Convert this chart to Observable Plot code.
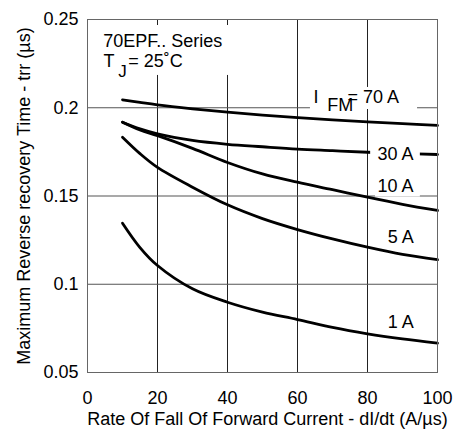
<!DOCTYPE html>
<html><head><meta charset="utf-8">
<script src="https://cdn.jsdelivr.net/npm/d3@7"></script>
<script src="https://cdn.jsdelivr.net/npm/@observablehq/plot@0.6"></script>
<style>
body{margin:0;background:#fff}
svg{font-family:"Liberation Sans",Arial,sans-serif}
</style>
</head><body><div id="chart"></div>
<script>
// di/dt values (A/µs)
const rate = [10, 15, 20, 30, 40, 50, 60, 70, 80, 90, 100];
// trr (µs) per forward current
const trr70A = [0.2045, 0.2030, 0.2016, 0.1994, 0.1975, 0.1958, 0.1944, 0.1931, 0.1920, 0.1910, 0.1900];
const trr30A = [0.1918, 0.1880, 0.1852, 0.1815, 0.1793, 0.1779, 0.1766, 0.1757, 0.1748, 0.1741, 0.1735];
const trr10A = [0.1918, 0.1874, 0.1842, 0.1770, 0.1690, 0.1625, 0.1578, 0.1536, 0.1493, 0.1453, 0.1418];
const trr5A  = [0.1833, 0.1740, 0.1662, 0.1550, 0.1450, 0.1372, 0.1310, 0.1257, 0.1210, 0.1169, 0.1139];
const trr1A  = [0.1346, 0.1208, 0.1106, 0.0974, 0.0898, 0.0842, 0.0800, 0.0755, 0.0719, 0.0690, 0.0666];
const seriesNames = ["70 A", "30 A", "10 A", "5 A", "1 A"];
const seriesValues = [trr70A, trr30A, trr10A, trr5A, trr1A];
const xTicks = [0, 20, 40, 60, 80, 100];
const yTicks = [0.05, 0.1, 0.15, 0.2, 0.25];
const xLabel = "Rate Of Fall Of Forward Current - dI/dt (A/µs)";
const yLabel = "Maximum Reverse recovery Time - trr (µs)";

const rows = seriesNames.flatMap((s, i) => rate.map((r, j) => ({rate: r, trr: seriesValues[i][j], s})));

// annotation texts (data coordinates)
const notesStart = [
  {text: "70EPF.. Series", x: 4.49, y: 0.2347, size: 18},
  {text: "T", x: 4.57, y: 0.2230, size: 18},
  {text: "J", x: 8.77, y: 0.2175, size: 17},
  {text: "= 25˚C", x: 11.63, y: 0.2230, size: 18},
  {text: "I", x: 64.57, y: 0.2026, size: 18},
  {text: "FM", x: 68.49, y: 0.1984, size: 18},
  {text: "= 70 A", x: 74.29, y: 0.2026, size: 18}
];
const notesEnd = [
  {text: "30 A", x: 93.14, y: 0.1705},
  {text: "10 A", x: 93.14, y: 0.1522},
  {text: "5 A", x: 93.2, y: 0.1233},
  {text: "1 A", x: 93.2, y: 0.0753}
];
// white label backgrounds
const masksBelow = [
  {x1: 2.5, x2: 41.2, y1: 0.2183, y2: 0.2466},
  {x1: 63.7, x2: 94.3, y1: 0.1990, y2: 0.2115},
  {x1: 82.3, x2: 95.1, y1: 0.1494, y2: 0.1616}
];
const masksAbove = [
  {x1: 80.9, x2: 95.1, y1: 0.1684, y2: 0.1797}
];

const chart = Plot.plot({
  width: 456,
  height: 436,
  marginLeft: 87,
  marginRight: 19,
  marginTop: 19,
  marginBottom: 64,
  style: {fontFamily: '"Liberation Sans", Arial, sans-serif', fontSize: "18px", color: "#000", background: "#fff"},
  x: {domain: [0, 100], ticks: xTicks, label: null, tickSize: 0, tickPadding: 19},
  y: {domain: [0.05, 0.25], ticks: yTicks, label: null, tickSize: 0, tickPadding: 9, tickFormat: d => String(d)},
  marks: [
    Plot.ruleX(xTicks.slice(1, -1), {stroke: "#222", strokeWidth: 1}),
    Plot.ruleY(yTicks.slice(1, -1), {stroke: "#555", strokeWidth: 1.2}),
    Plot.rect(masksBelow, {x1: "x1", x2: "x2", y1: "y1", y2: "y2", fill: "#fff"}),
    Plot.line(rows, {x: "rate", y: "trr", z: "s", stroke: "#000", strokeWidth: 2.8, curve: "catmull-rom"}),
    Plot.rect(masksAbove, {x1: "x1", x2: "x2", y1: "y1", y2: "y2", fill: "#fff"}),
    Plot.frame({stroke: "#666", strokeWidth: 1}),
    Plot.text(notesStart, {x: "x", y: "y", text: "text", fontSize: "size", textAnchor: "start", lineAnchor: "bottom", fill: "#000"}),
    Plot.text(notesEnd, {x: "x", y: "y", text: "text", fontSize: 18, textAnchor: "end", lineAnchor: "bottom", fill: "#000"}),
    Plot.text([xLabel], {frameAnchor: "bottom", dy: 52, dx: 5, fontSize: 18, textAnchor: "middle", lineAnchor: "bottom", fill: "#000", ariaLabel: "xlabel"}),
    Plot.text([yLabel], {frameAnchor: "left", dx: -58, rotate: -90, fontSize: 18, textAnchor: "middle", lineAnchor: "bottom", fill: "#000", ariaLabel: "ylabel"})
  ]
});
document.getElementById("chart").appendChild(chart);
const xl = chart.querySelector('g[aria-label="xlabel"] text');
if (xl) { xl.setAttribute("textLength", 360); xl.setAttribute("lengthAdjust", "spacingAndGlyphs"); }
const yl = chart.querySelector('g[aria-label="ylabel"] text');
if (yl) { yl.setAttribute("textLength", 345); yl.setAttribute("lengthAdjust", "spacingAndGlyphs"); }
</script>
</body></html>
